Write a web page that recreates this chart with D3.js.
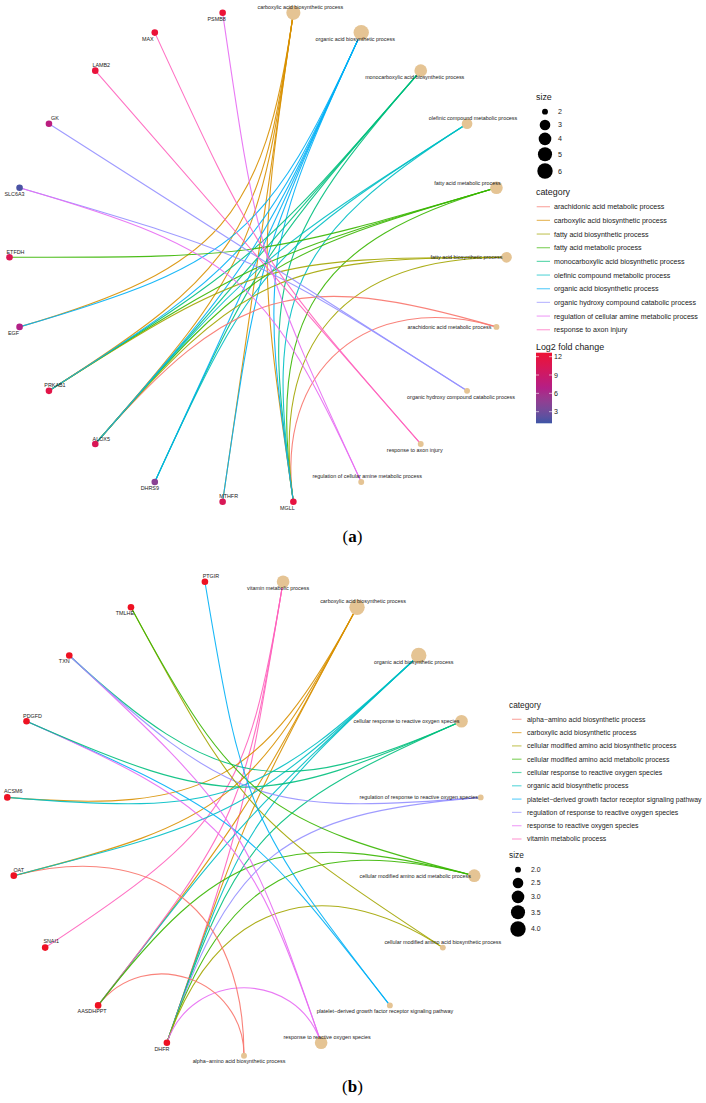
<!DOCTYPE html>
<html>
<head>
<meta charset="utf-8">
<script src="https://cdn.jsdelivr.net/npm/d3@7"></script>
<style>
body { margin: 0; background: #fff; }
svg { display: block; }
text { font-family: "Liberation Sans", Arial, sans-serif; fill: #1a1a1a; }
</style>
</head>
<body>
<svg id="chart" width="706" height="1103"></svg>
<script>
// ggplot hue palette, 10 levels
const hue10 = ["#F8766D", "#D89000", "#A3A500", "#39B600", "#00BF7D", "#00BFC4", "#00B0F6", "#9590FF", "#E76BF3", "#FF62BC"];

// ---- panel (a) ----
// categories, clockwise from the top of the circle
const termsA = [
    "carboxylic acid biosynthetic process",
    "organic acid biosynthetic process",
    "monocarboxylic acid biosynthetic process",
    "olefinic compound metabolic process",
    "fatty acid metabolic process",
    "fatty acid biosynthetic process",
    "arachidonic acid metabolic process",
    "organic hydroxy compound catabolic process",
    "response to axon injury",
    "regulation of cellular amine metabolic process"
];
// genes, continuing clockwise from the bottom
const genesA = ["MGLL", "MTHFR", "DHRS9", "ALOX5", "PRKAB1", "EGF", "ETFDH", "SLC6A3", "GK", "LAMB2", "MAX", "PSMB8"];
const log2fcA = [11.8, 10.3, 4.3, 10.4, 11.3, 6.8, 10.6, 1.5, 7.4, 12.2, 12.3, 12.4];
const geneTermsA = [
    ["arachidonic acid metabolic process", "fatty acid metabolic process", "fatty acid biosynthetic process", "monocarboxylic acid biosynthetic process", "olefinic compound metabolic process", "carboxylic acid biosynthetic process", "organic acid biosynthetic process"],
    ["carboxylic acid biosynthetic process", "organic acid biosynthetic process"],
    ["olefinic compound metabolic process", "monocarboxylic acid biosynthetic process", "organic acid biosynthetic process"],
    ["arachidonic acid metabolic process", "fatty acid metabolic process", "fatty acid biosynthetic process", "monocarboxylic acid biosynthetic process", "olefinic compound metabolic process", "carboxylic acid biosynthetic process", "organic acid biosynthetic process"],
    ["fatty acid metabolic process", "fatty acid biosynthetic process", "monocarboxylic acid biosynthetic process", "carboxylic acid biosynthetic process", "organic acid biosynthetic process"],
    ["carboxylic acid biosynthetic process", "organic acid biosynthetic process"],
    ["fatty acid metabolic process"],
    ["organic hydroxy compound catabolic process", "regulation of cellular amine metabolic process"],
    ["organic hydroxy compound catabolic process"],
    ["response to axon injury"],
    ["response to axon injury"],
    ["regulation of cellular amine metabolic process"]
];
const sizeBreaksA = [2, 3, 4, 5, 6];
const fcTicksA = [3, 6, 9, 12];

// ---- panel (b) ----
const termsB = [
    "vitamin metabolic process",
    "carboxylic acid biosynthetic process",
    "organic acid biosynthetic process",
    "cellular response to reactive oxygen species",
    "regulation of response to reactive oxygen species",
    "cellular modified amino acid metabolic process",
    "cellular modified amino acid biosynthetic process",
    "platelet\u2212derived growth factor receptor signaling pathway",
    "response to reactive oxygen species",
    "alpha\u2212amino acid biosynthetic process"
];
const genesB = ["DHFR", "AASDHPPT", "SNAI1", "OAT", "ACSM6", "PDGFD", "TXN", "TMLHE", "PTGIR"];
const geneTermsB = [
    ["vitamin metabolic process", "carboxylic acid biosynthetic process", "organic acid biosynthetic process", "cellular response to reactive oxygen species", "regulation of response to reactive oxygen species", "cellular modified amino acid metabolic process", "cellular modified amino acid biosynthetic process", "response to reactive oxygen species"],
    ["alpha\u2212amino acid biosynthetic process", "carboxylic acid biosynthetic process", "organic acid biosynthetic process", "vitamin metabolic process", "cellular modified amino acid metabolic process"],
    ["vitamin metabolic process"],
    ["alpha\u2212amino acid biosynthetic process", "carboxylic acid biosynthetic process", "organic acid biosynthetic process"],
    ["carboxylic acid biosynthetic process", "organic acid biosynthetic process"],
    ["platelet\u2212derived growth factor receptor signaling pathway", "response to reactive oxygen species", "cellular response to reactive oxygen species"],
    ["response to reactive oxygen species", "cellular response to reactive oxygen species", "regulation of response to reactive oxygen species"],
    ["cellular modified amino acid biosynthetic process", "cellular modified amino acid metabolic process"],
    ["platelet\u2212derived growth factor receptor signaling pathway"]
];
const sizeBreaksB = [2.0, 2.5, 3.0, 3.5, 4.0];

// label nudges (repel-like placement), relative to node centre
const nudgeA = {
    "carboxylic acid biosynthetic process": [7, -6], "organic acid biosynthetic process": [-6, 6],
    "monocarboxylic acid biosynthetic process": [-6, 6], "olefinic compound metabolic process": [6, -6],
    "fatty acid metabolic process": [-29, -5], "fatty acid biosynthetic process": [-40, 0],
    "arachidonic acid metabolic process": [-47, 0], "organic hydroxy compound catabolic process": [-6, 6],
    "response to axon injury": [-6, 6], "regulation of cellular amine metabolic process": [6, -6],
    MGLL: [-6, 6], MTHFR: [6, -6], DHRS9: [-5, 6], ALOX5: [6, -5], PRKAB1: [6, -6], EGF: [-6, 6],
    ETFDH: [6, -5], SLC6A3: [-5, 6], GK: [6, -6], LAMB2: [6, -6], MAX: [-7, 6], PSMB8: [-6, 6]
};
const nudgeB = {
    "vitamin metabolic process": [-5, 6], "carboxylic acid biosynthetic process": [6, -6],
    "organic acid biosynthetic process": [-5, 7], "cellular response to reactive oxygen species": [-55, 0],
    "regulation of response to reactive oxygen species": [-62, 0], "cellular modified amino acid metabolic process": [-59, 0],
    "cellular modified amino acid biosynthetic process": [0, -5],
    "platelet\u2212derived growth factor receptor signaling pathway": [-5, 6],
    "response to reactive oxygen species": [6, -6], "alpha\u2212amino acid biosynthetic process": [-5, 5],
    DHFR: [-5, 6], AASDHPPT: [-6, 6], SNAI1: [6, -6], OAT: [5, -6], ACSM6: [6, -6], PDGFD: [6, -5],
    TXN: [-5, 6], TMLHE: [-6, 6], PTGIR: [6, -6]
};

const svg = d3.select("#chart");

const fcColor = d3.scaleLinear()
    .domain([1.1, 6.9, 12.65])
    .range(["#3D55A6", "#B41E86", "#EE1133"])
    .interpolate(d3.interpolateLab);

function drawPanel(p) {
    const g = svg.append("g");
    const nodes = p.terms.map(t => ({ name: t, type: "cat" }))
        .concat(p.genes.map((name, i) => ({ name: name, type: "gene", fc: p.fc ? p.fc[i] : null })));
    const angle = d3.scaleLinear().domain([0, nodes.length]).range([0, 2 * Math.PI]);
    nodes.forEach((d, i) => {
        d.a = angle(i + 0.5);
        d.x = p.cx + p.rx * Math.sin(d.a);
        d.y = p.cy - p.ry * Math.cos(d.a);
    });
    const byName = new Map(nodes.map(d => [d.name, d]));

    const links = [];
    p.genes.forEach((name, i) => {
        p.geneTerms[i].forEach(t => links.push({ source: byName.get(name), target: byName.get(t), term: t }));
    });
    const counts = d3.rollup(links, v => v.length, d => d.term);
    nodes.forEach(d => { if (d.type === "cat") d.size = counts.get(d.name) || 0; });

    const legendTerms = p.terms.slice().sort();
    const color = d3.scaleOrdinal(legendTerms, hue10);

    const [lo, hi] = d3.extent(nodes.filter(d => d.type === "cat"), d => d.size);
    const area = d3.scaleLinear().domain([0, 1]).range([1, 6]);
    const radius = v => 0.95 * area(Math.sqrt((v - lo) / (hi - lo))) + 2;

    // edges: cubic arcs, control points pulled toward the centre by the chord length
    g.append("g").selectAll("path")
        .data(links)
        .join("path")
        .attr("d", d => {
            const s = d.source, t = d.target;
            let da = Math.abs(s.a - t.a);
            if (da > Math.PI) da = 2 * Math.PI - da;
            const k = 1 - Math.sin(da / 2);
            const path = d3.path();
            path.moveTo(s.x, s.y);
            path.bezierCurveTo(
                p.cx + k * (s.x - p.cx), p.cy + k * (s.y - p.cy),
                p.cx + k * (t.x - p.cx), p.cy + k * (t.y - p.cy),
                t.x, t.y);
            return path.toString();
        })
        .attr("fill", "none")
        .attr("stroke", d => color(d.term))
        .attr("stroke-opacity", 0.9)
        .attr("stroke-width", 1.1);

    g.append("g").selectAll("circle")
        .data(nodes)
        .join("circle")
        .attr("cx", d => d.x)
        .attr("cy", d => d.y)
        .attr("r", d => d.type === "cat" ? radius(d.size) : 3.3)
        .attr("fill", d => d.type === "cat" ? "#E5C494" : (d.fc != null ? fcColor(d.fc) : p.geneColor));

    g.append("g").selectAll("text")
        .data(nodes)
        .join("text")
        .attr("x", d => d.x + p.nudge[d.name][0])
        .attr("y", d => d.y + p.nudge[d.name][1])
        .attr("dy", "0.35em")
        .attr("text-anchor", "middle")
        .attr("font-size", 5.4)
        .text(d => d.name);

    // legends
    const lg = p.legend;
    function sizeLegend(y0) {
        const s = g.append("g");
        s.append("text").attr("x", lg.x).attr("y", y0).attr("dy", "0.35em")
            .attr("font-size", lg.title).text("size");
        let y = y0 + 8;
        const rows = p.sizeBreaks.map(v => {
            const r = radius(v);
            const h = Math.max(13.3, 2 * r + 2);
            const row = { v: v, r: r, y: y + h / 2 };
            y += h;
            return row;
        });
        s.selectAll("circle").data(rows).join("circle")
            .attr("cx", lg.x + 9).attr("cy", d => d.y).attr("r", d => d.r).attr("fill", "#000");
        s.selectAll("text.lab").data(rows).join("text").attr("class", "lab")
            .attr("x", lg.x + 22).attr("y", d => d.y).attr("dy", "0.35em")
            .attr("font-size", lg.text).attr("fill", "#333")
            .text(d => p.sizeFormat(d.v));
    }
    function catLegend(y0) {
        const c = g.append("g");
        c.append("text").attr("x", lg.x).attr("y", y0).attr("dy", "0.35em")
            .attr("font-size", lg.title).text("category");
        const rows = c.selectAll("g").data(legendTerms).join("g")
            .attr("transform", (d, i) => `translate(0,${y0 + lg.first + i * lg.step})`);
        rows.append("line")
            .attr("x1", lg.x + lg.key0).attr("x2", lg.x + lg.key1)
            .attr("stroke", d => color(d)).attr("stroke-opacity", 0.6).attr("stroke-width", 1.2);
        rows.append("text").attr("x", lg.x + 18).attr("dy", "0.35em")
            .attr("font-size", lg.text).attr("fill", "#333").text(d => d);
    }
    function fcLegend(y0) {
        const f = g.append("g");
        f.append("text").attr("x", lg.x).attr("y", y0).attr("dy", "0.35em")
            .attr("font-size", lg.title).text("Log2 fold change");
        const yb = d3.scaleLinear().domain(fcColor.domain().filter((d, i, a) => i === 0 || i === a.length - 1))
            .range([y0 + 76.6, y0 + 6]);
        const grad = svg.append("defs").append("linearGradient")
            .attr("id", "fcgrad").attr("x1", 0).attr("x2", 0).attr("y1", 1).attr("y2", 0);
        d3.range(0, 1.0001, 0.1).forEach(t => {
            const v = yb.domain()[0] + t * (yb.domain()[1] - yb.domain()[0]);
            grad.append("stop").attr("offset", t).attr("stop-color", fcColor(v));
        });
        f.append("rect").attr("x", lg.x).attr("y", yb.range()[1])
            .attr("width", 16).attr("height", yb.range()[0] - yb.range()[1])
            .attr("fill", "url(#fcgrad)");
        const ticks = f.selectAll("g").data(p.fcTicks).join("g")
            .attr("transform", d => `translate(0,${yb(d)})`);
        ticks.append("line").attr("x1", lg.x).attr("x2", lg.x + 3).attr("stroke", "#fff").attr("stroke-width", 0.6);
        ticks.append("line").attr("x1", lg.x + 13).attr("x2", lg.x + 16).attr("stroke", "#fff").attr("stroke-width", 0.6);
        ticks.append("text").attr("x", lg.x + 18).attr("dy", "0.35em")
            .attr("font-size", lg.text).attr("fill", "#333").text(d => d);
    }
    p.legendOrder.forEach(([kind, y0]) => {
        if (kind === "size") sizeLegend(y0);
        if (kind === "category") catLegend(y0);
        if (kind === "fc") fcLegend(y0);
    });

    const lab = g.append("text")
        .attr("x", p.label[0]).attr("y", p.label[1])
        .attr("text-anchor", "middle")
        .attr("font-size", 17)
        .style("font-family", "'Liberation Serif', 'Times New Roman', serif")
        .style("fill", "#000");
    lab.append("tspan").text("(");
    lab.append("tspan").attr("font-weight", "bold").text(p.letter);
    lab.append("tspan").text(")");
}

drawPanel({
    terms: termsA, genes: genesA, fc: log2fcA, geneTerms: geneTermsA, nudge: nudgeA,
    cx: 258, cy: 257.3, rx: 248.5, ry: 247,
    sizeBreaks: sizeBreaksA, sizeFormat: d3.format("d"), fcTicks: fcTicksA,
    legend: { x: 536, title: 8.9, text: 7.1, first: 15, step: 13.67, key0: 0.7, key1: 14 },
    legendOrder: [["size", 97], ["category", 191.7], ["fc", 346.7]],
    label: [352.5, 542], letter: "a"
});

drawPanel({
    terms: termsB, genes: genesB, fc: null, geneTerms: geneTermsB, nudge: nudgeB,
    cx: 244, cy: 817.1, rx: 237.5, ry: 238.6, geneColor: "#EE1122",
    sizeBreaks: sizeBreaksB, sizeFormat: d3.format(".1f"),
    legend: { x: 509, title: 8.3, text: 6.9, first: 14.3, step: 13.3, key0: 3, key1: 12.5 },
    legendOrder: [["category", 705], ["size", 855]],
    label: [352.5, 1092], letter: "b"
});
</script>
</body>
</html>
